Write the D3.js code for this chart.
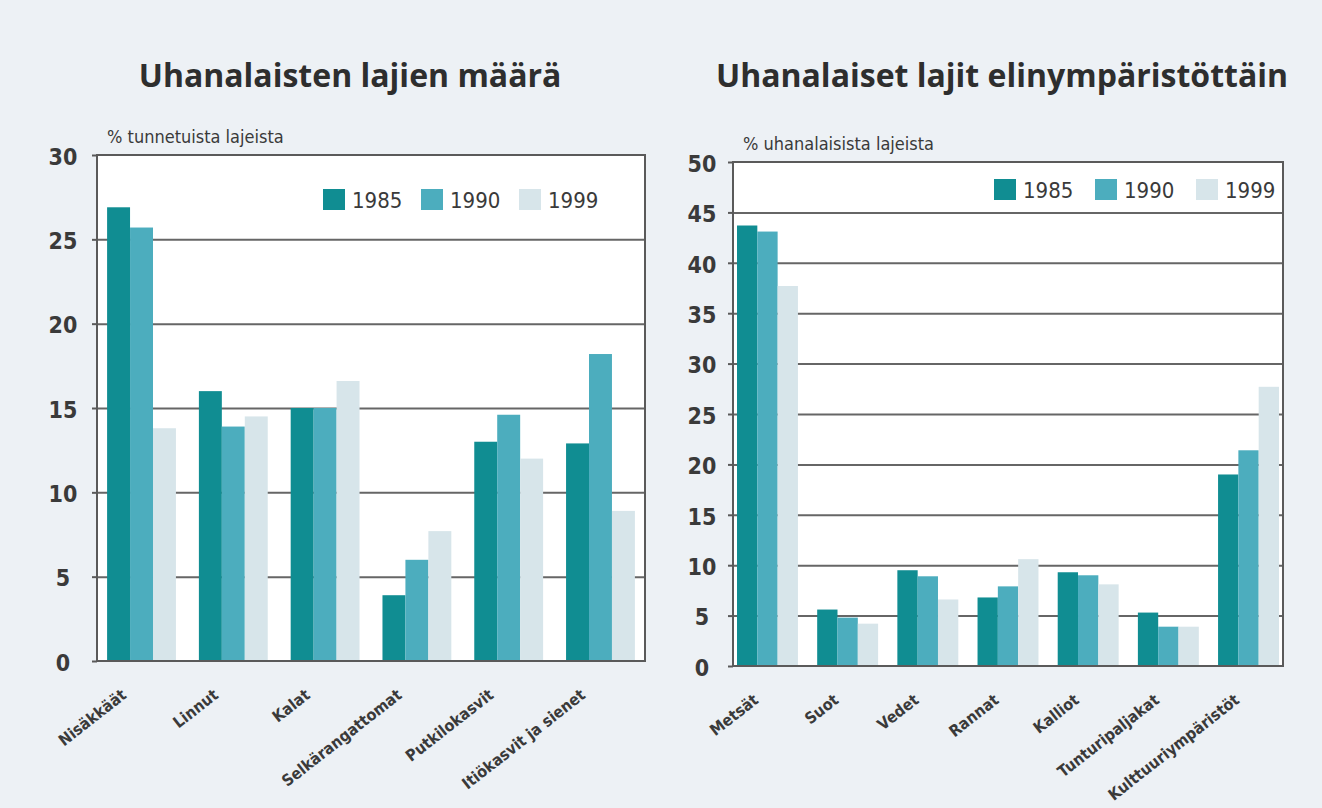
<!DOCTYPE html>
<html>
<head>
<meta charset="utf-8">
<script src="https://cdn.jsdelivr.net/npm/d3@7"></script>
<style>
  body { margin: 0; background: #edf1f5; }
  svg text { font-family: "Liberation Sans Narrow", "DejaVu Sans Condensed", sans-serif; fill: #3a3a3a; }
  .title { font-family: "Open Sans", "Liberation Sans", sans-serif; font-weight: bold; font-size: 32px; fill: #2e2e2e; }
</style>
</head>
<body>
<svg id="canvas" width="1322" height="808"></svg>
<script>
const years = ["1985", "1990", "1999"];
const yearColors = ["#108d92", "#4cadbe", "#d7e5ea"];

const speciesGroups = ["Nisäkkäät", "Linnut", "Kalat", "Selkärangattomat", "Putkilokasvit", "Itiökasvit ja sienet"];
const species1985 = [26.9, 16.0, 15.0, 3.9, 13.0, 12.9];
const species1990 = [25.7, 13.9, 15.0, 6.0, 14.6, 18.2];
const species1999 = [13.8, 14.5, 16.6, 7.7, 12.0, 8.9];
const speciesTicks = [0, 5, 10, 15, 20, 25, 30];

const habitats = ["Metsät", "Suot", "Vedet", "Rannat", "Kalliot", "Tunturipaljakat", "Kulttuuriympäristöt"];
const habitat1985 = [43.7, 5.6, 9.5, 6.8, 9.3, 5.3, 19.0];
const habitat1990 = [43.1, 4.8, 8.9, 7.9, 9.0, 3.9, 21.4];
const habitat1999 = [37.7, 4.2, 6.6, 10.6, 8.1, 3.9, 27.7];
const habitatTicks = [0, 5, 10, 15, 20, 25, 30, 35, 40, 45, 50];

let canvas = d3.select("#canvas");

let drawChart = (opts) => {
  const { left, right, top, bottom } = opts.box;
  const g = canvas.append("g");

  let x0 = d3.scaleBand()
    .domain(opts.categories)
    .range([left, right])
    .paddingInner(opts.inner)
    .paddingOuter(opts.outer);
  let x1 = d3.scaleBand().domain(years).range([0, x0.bandwidth()]);
  let y = d3.scaleLinear().domain([0, d3.max(opts.ticks)]).range([bottom, top]);

  g.append("text")
    .attr("class", "title")
    .attr("x", opts.titleX)
    .attr("y", 87)
    .attr("text-anchor", "middle")
    .text(opts.title);

  g.append("text")
    .attr("x", left + 10)
    .attr("y", top - 12)
    .attr("font-size", "18px")
    .text(opts.unit);

  g.append("rect")
    .attr("x", left).attr("y", top)
    .attr("width", right - left).attr("height", bottom - top)
    .attr("fill", "#fff");

  let grid = g.append("g")
    .attr("transform", `translate(${left},0)`)
    .call(d3.axisLeft(y).tickValues(opts.ticks.slice(1, -1)).tickSize(-(right - left)).tickFormat(""));
  grid.select(".domain").remove();
  grid.selectAll("line").attr("stroke", "#666").attr("stroke-width", 2);

  let rows = opts.categories.map((c, i) => ({ cat: c, values: opts.series.map((s) => s[i]) }));

  g.selectAll(".group")
    .data(rows)
    .enter()
    .append("g")
    .attr("transform", (d) => `translate(${x0(d.cat)},0)`)
    .selectAll("rect")
    .data((d) => d.values.map((v, k) => ({ year: years[k], value: v, color: yearColors[k] })))
    .enter()
    .append("rect")
    .attr("x", (d) => x1(d.year))
    .attr("y", (d) => y(d.value))
    .attr("width", x1.bandwidth())
    .attr("height", (d) => y(0) - y(d.value))
    .attr("fill", (d) => d.color);

  g.append("rect")
    .attr("x", left).attr("y", top)
    .attr("width", right - left).attr("height", bottom - top)
    .attr("fill", "none")
    .attr("stroke", "#5a5a5a")
    .attr("stroke-width", 2);

  let yAxis = g.append("g")
    .attr("transform", `translate(${left},0)`)
    .call(d3.axisLeft(y).tickValues(opts.ticks).tickSize(5));
  yAxis.select(".domain").remove();
  yAxis.selectAll("line").attr("stroke", "#5a5a5a").attr("stroke-width", 2);
  yAxis.selectAll("text")
    .attr("x", opts.labelOffset)
    .attr("dy", "0.4em")
    .attr("text-anchor", "middle")
    .attr("font-size", "23px")
    .attr("font-weight", "bold")
    .attr("fill", "#444");

  g.selectAll(".xlabel")
    .data(opts.categories)
    .enter()
    .append("text")
    .attr("text-anchor", "end")
    .attr("font-size", "16px")
    .attr("font-weight", "bold")
    .attr("fill", "#444")
    .attr("transform", (d) => `translate(${x0(d) + x0.bandwidth() / 2 + opts.labelShift},${bottom + 36}) rotate(-38)`)
    .text((d) => d);

  let legend = g.append("g")
    .selectAll("g")
    .data(years)
    .enter()
    .append("g")
    .attr("transform", (d, i) => `translate(${opts.legendX + i * opts.legendStep},${opts.legendY})`);
  legend.append("rect")
    .attr("x", 0).attr("y", -11)
    .attr("width", 22).attr("height", 21)
    .attr("fill", (d, i) => yearColors[i]);
  legend.append("text")
    .attr("x", 29).attr("y", 8)
    .attr("font-size", "22px")
    .text((d) => d);
};

drawChart({
  title: "Uhanalaisten lajien määrä",
  titleX: 350,
  unit: "% tunnetuista lajeista",
  categories: speciesGroups,
  series: [species1985, species1990, species1999],
  ticks: speciesTicks,
  box: { left: 97, right: 645, top: 155, bottom: 661 },
  inner: 0.25,
  outer: 0.11,
  labelOffset: -34,
  labelShift: -14,
  legendX: 323,
  legendY: 200,
  legendStep: 98
});

drawChart({
  title: "Uhanalaiset lajit elinympäristöttäin",
  titleX: 1002,
  unit: "% uhanalaisista lajeista",
  categories: habitats,
  series: [habitat1985, habitat1990, habitat1999],
  ticks: habitatTicks,
  box: { left: 733, right: 1283, top: 162, bottom: 666 },
  inner: 0.24,
  outer: 0.05,
  labelOffset: -31,
  labelShift: -8,
  legendX: 994,
  legendY: 190,
  legendStep: 101
});
</script>
</body>
</html>
